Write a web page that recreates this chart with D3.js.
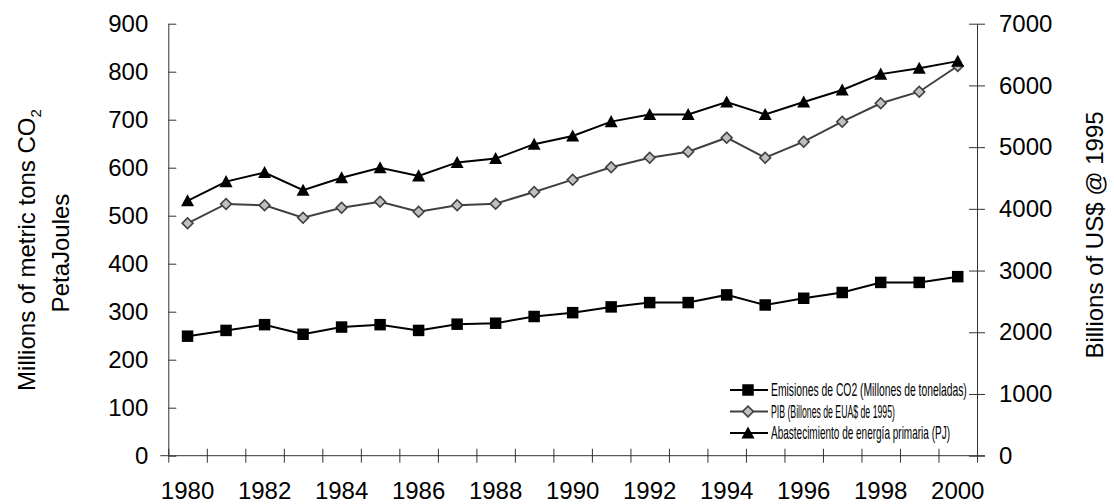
<!DOCTYPE html>
<html>
<head>
<meta charset="utf-8">
<script src="https://cdn.jsdelivr.net/npm/d3@7"></script>
<style>
  body { margin: 0; background: #fff; }
  text { font-family: "Liberation Sans", Arial, sans-serif; fill: #000; }
</style>
</head>
<body>
<div id="chart"></div>
<script>
// data
var years = d3.range(1980, 2001);
var co2 = [249, 261, 273, 253, 268, 273, 261, 274, 276, 290, 298, 310, 319, 319, 335, 314, 328, 340, 361, 361, 373];
var pib = [3766, 4079, 4058, 3857, 4019, 4116, 3954, 4058, 4084, 4273, 4473, 4673, 4829, 4926, 5153, 4829, 5088, 5412, 5711, 5898, 6315];
var energy = [531, 571, 590, 553, 579, 600, 583, 611, 619, 649, 666, 696, 711, 711, 737, 711, 737, 762, 795, 807, 822];
var leftTicks = d3.range(0, 1000, 100);
var rightTicks = d3.range(0, 8000, 1000);
var yearLabels = d3.range(1980, 2001, 2);
var legendNames = ["Emisiones de CO2 (Millones de toneladas)", "PIB (Billones de EUA$ de 1995)", "Abastecimiento de energía primaria (PJ)"];
var legendWidths = [196, 124, 179];

var full_width = 1114, full_height = 504;
var margin = {left: 168.3, right: 977, top: 23.7, bottom: 455.7};

var svg = d3.select("#chart")
    .append("svg")
    .attr("width", full_width)
    .attr("height", full_height);

// scales
var x = d3.scaleLinear()
    .domain([1979.5, 2000.5])
    .range([margin.left, margin.right]);
var yL = d3.scaleLinear()
    .domain([0, 900])
    .range([margin.bottom, margin.top]);
var yR = d3.scaleLinear()
    .domain([0, 7000])
    .range([margin.bottom, margin.top]);

var axisColor = "#333";

// X axis: boundary ticks
var gx = svg.append("g")
    .attr("transform", "translate(0," + margin.bottom + ")")
    .call(d3.axisBottom(x).tickValues(d3.range(1979.5, 2001, 1)).tickSizeOuter(0).tickSize(7).tickFormat(""));
gx.selectAll(".tick line").attr("y1", -7).attr("stroke", axisColor);
gx.select(".domain").attr("stroke", axisColor).attr("d", "M" + (margin.left - 8) + ",0H" + (margin.right + 8));

// X labels
svg.append("g")
    .selectAll("text")
    .data(yearLabels)
    .enter().append("text")
    .attr("x", function(d) { return x(d); })
    .attr("y", 499)
    .attr("text-anchor", "middle")
    .style("font-size", "24px")
    .text(function(d) { return d; });

// Left axis
var gl = svg.append("g")
    .attr("transform", "translate(" + margin.left + ",0)")
    .call(d3.axisLeft(yL).tickValues(leftTicks).tickSize(8).tickSizeOuter(0).tickPadding(12));
gl.selectAll(".tick line").attr("x2", 8).attr("stroke", axisColor);
gl.select(".domain").attr("stroke", axisColor);
gl.selectAll(".tick text").style("font-size", "24px").style("font-family", "Liberation Sans, Arial, sans-serif").attr("fill", "#000");

// Right axis
var gr = svg.append("g")
    .attr("transform", "translate(" + margin.right + ",0)")
    .call(d3.axisRight(yR).tickValues(rightTicks).tickFormat(d3.format("d")).tickSize(8).tickSizeOuter(0).tickPadding(14));
gr.selectAll(".tick line").attr("x2", -8).attr("x1", 8).attr("stroke", axisColor);
gr.select(".domain").attr("stroke", axisColor);
gr.selectAll(".tick text").style("font-size", "24px").style("font-family", "Liberation Sans, Arial, sans-serif").attr("fill", "#000");

// Axis titles
var lt = svg.append("text")
    .attr("transform", "translate(35,250) rotate(-90)")
    .attr("text-anchor", "middle")
    .style("font-size", "24px");
lt.append("tspan").text("Millions of metric tons CO");
lt.append("tspan").attr("dy", 6).style("font-size", "15px").text("2");

svg.append("text")
    .attr("transform", "translate(69,253) rotate(-90)")
    .attr("text-anchor", "middle")
    .style("font-size", "24px")
    .text("PetaJoules");

svg.append("text")
    .attr("transform", "translate(1103,235) rotate(-90)")
    .attr("text-anchor", "middle")
    .style("font-size", "24px")
    .text("Billions of US$ @ 1995");

// marker shapes
var triangle = {
    draw: function(context, size) {
        var h = Math.sqrt(size) / 2;
        context.moveTo(0, -h);
        context.lineTo(h, h * 0.85);
        context.lineTo(-h, h * 0.85);
        context.closePath();
    }
};

var series = [
    {values: co2, y: yL, stroke: "#000", symbol: d3.symbol().type(d3.symbolSquare).size(132), fill: "#000", mstroke: "none", rotate: 0},
    {values: pib, y: yR, stroke: "#404040", symbol: d3.symbol().type(d3.symbolSquare).size(58), fill: "#c0c0c0", mstroke: "#404040", rotate: 45},
    {values: energy, y: yL, stroke: "#000", symbol: d3.symbol().type(triangle).size(169), fill: "#000", mstroke: "none", rotate: 0}
];

series.forEach(function(s) {
    var line = d3.line()
        .x(function(d, i) { return x(years[i]); })
        .y(function(d) { return s.y(d); });
    svg.append("path")
        .datum(s.values)
        .attr("d", line)
        .attr("fill", "none")
        .attr("stroke", s.stroke)
        .attr("stroke-width", 2);
    svg.append("g")
        .selectAll("path")
        .data(s.values)
        .enter().append("path")
        .attr("d", s.symbol)
        .attr("transform", function(d, i) { return "translate(" + x(years[i]) + "," + s.y(d) + ") rotate(" + s.rotate + ")"; })
        .attr("fill", s.fill)
        .attr("stroke", s.mstroke)
        .attr("stroke-width", 1.6);
});

// Legend
var legend = svg.append("g")
    .selectAll("g")
    .data(series)
    .enter().append("g")
    .attr("transform", function(d, i) { return "translate(730," + (390 + i * 21.5) + ")"; });

legend.append("line")
    .attr("x1", 0).attr("x2", 38)
    .attr("stroke", function(d) { return d.stroke; })
    .attr("stroke-width", 2);
legend.append("path")
    .attr("d", function(d) { return d.symbol(); })
    .attr("transform", function(d) { return "translate(18,0) rotate(" + d.rotate + ")"; })
    .attr("fill", function(d) { return d.fill; })
    .attr("stroke", function(d) { return d.mstroke; })
    .attr("stroke-width", 1.6);
// the legend text is narrow in the original, squeeze it horizontally
legend.append("text")
    .attr("y", 6)
    .style("font-size", "17.5px")
    .text(function(d, i) { return legendNames[i]; })
    .attr("transform", function(d, i) {
        var w = this.getComputedTextLength();
        return "translate(41,0) scale(" + (legendWidths[i] / w) + ",1)";
    });
</script>
</body>
</html>
